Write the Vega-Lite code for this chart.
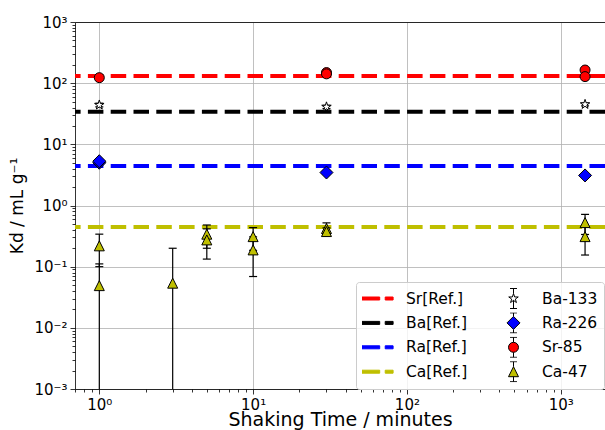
{
  "$schema": "https://vega.github.io/schema/vega-lite/v6.json",
  "width": 530,
  "height": 367,
  "autosize": {"type": "none"},
  "padding": {"left": 75, "top": 22, "right": 0, "bottom": 41},
  "background": "white",
  "config": {
    "view": {"stroke": null},
    "font": "DejaVu Sans",
    "axis": {
      "labelFont": "DejaVu Sans", "labelFontSize": 15, "labelColor": "black",
      "titleFont": "DejaVu Sans", "titleFontSize": 19, "titleFontWeight": "normal", "titleColor": "black",
      "domainColor": "black", "domainWidth": 0.8, "tickColor": "black", "tickWidth": 0.8, "tickSize": 5,
      "gridColor": "#b0b0b0", "gridWidth": 0.8, "gridOpacity": 1, "labelFlush": false, "labelOverlap": false, "labelPadding": 3
    }
  },
  "datasets": {
    "refs": [
      {"series": "Sr[Ref.]", "k": 131},
      {"series": "Ba[Ref.]", "k": 34.2},
      {"series": "Ra[Ref.]", "k": 4.44},
      {"series": "Ca[Ref.]", "k": 0.447}
    ],
    "pts": [
      {"t": 1, "series": "Ba-133", "k": 44, "lo": 41, "hi": 47},
      {"t": 30, "series": "Ba-133", "k": 41, "lo": 38.5, "hi": 43.5},
      {"t": 1440, "series": "Ba-133", "k": 45, "lo": 42.5, "hi": 47.5},
      {"t": 1, "series": "Ra-226", "k": 5.0, "lo": 4.8, "hi": 5.2},
      {"t": 1, "series": "Ra-226", "k": 5.3, "lo": 5.1, "hi": 5.5},
      {"t": 30, "series": "Ra-226", "k": 3.46, "lo": 3.3, "hi": 3.6},
      {"t": 1440, "series": "Ra-226", "k": 3.1, "lo": 2.95, "hi": 3.25},
      {"t": 1, "series": "Sr-85", "k": 123, "lo": 118, "hi": 128},
      {"t": 30, "series": "Sr-85", "k": 149, "lo": 143, "hi": 155},
      {"t": 30, "series": "Sr-85", "k": 142, "lo": 136, "hi": 148},
      {"t": 1440, "series": "Sr-85", "k": 164, "lo": 158, "hi": 170},
      {"t": 1440, "series": "Sr-85", "k": 128, "lo": 123, "hi": 133},
      {"t": 1, "series": "Ca-47", "k": 0.219, "lo": 0.1, "hi": 0.34},
      {"t": 1, "series": "Ca-47", "k": 0.049, "lo": 0.0001, "hi": 0.111},
      {"t": 3, "series": "Ca-47", "k": 0.0537, "lo": 0.0001, "hi": 0.2},
      {"t": 5, "series": "Ca-47", "k": 0.34, "lo": 0.2, "hi": 0.48},
      {"t": 5, "series": "Ca-47", "k": 0.274, "lo": 0.133, "hi": 0.415},
      {"t": 10, "series": "Ca-47", "k": 0.31, "lo": 0.185, "hi": 0.435},
      {"t": 10, "series": "Ca-47", "k": 0.188, "lo": 0.069, "hi": 0.307},
      {"t": 30, "series": "Ca-47", "k": 0.42, "lo": 0.33, "hi": 0.52},
      {"t": 30, "series": "Ca-47", "k": 0.375, "lo": 0.32, "hi": 0.43},
      {"t": 1440, "series": "Ca-47", "k": 0.526, "lo": 0.336, "hi": 0.716},
      {"t": 1440, "series": "Ca-47", "k": 0.31, "lo": 0.155, "hi": 0.465}
    ]
  },
  "layer": [
    {
      "data": {"name": "refs"},
      "mark": {"type": "rule", "strokeWidth": 4, "strokeDash": [15.5, 7.3]},
      "encoding": {
        "y": {
          "field": "k", "type": "quantitative",
          "scale": {"type": "log", "domain": [0.001, 1000], "nice": false},
          "axis": {
            "orient": "left", "values": [0.001, 0.01, 0.1, 1, 10, 100, 1000], "grid": true,
            "labelExpr": "datum.value < 0.0015 ? '10⁻³' : datum.value < 0.015 ? '10⁻²' : datum.value < 0.15 ? '10⁻¹' : datum.value < 1.5 ? '10⁰' : datum.value < 15 ? '10¹' : datum.value < 150 ? '10²' : '10³'",
            "title": "Kd / mL g⁻¹", "titlePadding": 7, "titleFontSize": 17
          }
        },
        "color": {
          "field": "series", "type": "nominal",
          "scale": {
            "domain": ["Sr[Ref.]", "Ba[Ref.]", "Ra[Ref.]", "Ca[Ref.]", "Ba-133", "Ra-226", "Sr-85", "Ca-47"],
            "range": ["#ff0000", "#000000", "#0000ff", "#bfbf00", "#000000", "#000000", "#000000", "#000000"]
          },
          "legend": {
            "title": null, "orient": "none", "legendX": 281, "legendY": 260, "direction": "vertical", "columns": 2,
            "columnPadding": 30, "rowPadding": 3.4, "padding": 6, "fillColor": "rgba(255,255,255,0.8)",
            "strokeColor": "#cccccc", "cornerRadius": 3, "symbolSize": 900, "symbolStrokeWidth": 1, "symbolOpacity": 1,
            "labelOffset": 13, "labelFont": "DejaVu Sans", "labelFontSize": 15.5, "labelColor": "black", "clipHeight": 21,
            "encoding": {
              "symbols": {
                "shape": {"value": {"expr": "datum.value == 'Ba-133' ? 'M0,-0.333L0.075,-0.103L0.317,-0.103L0.121,0.039L0.196,0.27L0,0.127L-0.196,0.27L-0.121,0.039L-0.317,-0.103L-0.075,-0.103Z M0,-0.667L0,-0.333 M0,0.127L0,0.667 M-0.233,-0.667L0.233,-0.667 M-0.233,0.667L0.233,0.667' : datum.value == 'Ra-226' ? 'M0,-0.433L0.433,0L0,0.433L-0.433,0Z M0,-0.667L0,-0.433 M0,0.433L0,0.667 M-0.233,-0.667L0.233,-0.667 M-0.233,0.667L0.233,0.667' : datum.value == 'Sr-85' ? 'M-0.333,0C-0.333,-0.184,-0.184,-0.333,0,-0.333C0.184,-0.333,0.333,-0.184,0.333,0C0.333,0.184,0.184,0.333,0,0.333C-0.184,0.333,-0.333,0.184,-0.333,0Z M0,-0.667L0,-0.333 M0,0.333L0,0.667 M-0.233,-0.667L0.233,-0.667 M-0.233,0.667L0.233,0.667' : datum.value == 'Ca-47' ? 'M0,-0.333L0.333,0.333L-0.333,0.333Z M0,-0.667L0,-0.333 M0,0.333L0,0.667 M-0.233,-0.667L0.233,-0.667 M-0.233,0.667L0.233,0.667' : 'M-1.04,-0.1L0.146,-0.1L0.146,0.1L-1.04,0.1Z M0.514,-0.1L1.04,-0.1L1.04,0.1L0.514,0.1Z'"}},
                "fill": {"value": {"expr": "datum.value == 'Ba-133' ? 'white' : datum.value == 'Ra-226' ? '#0000ff' : datum.value == 'Sr-85' ? '#ff0000' : datum.value == 'Ca-47' ? '#bfbf00' : scale('color', datum.value)"}},
                "stroke": {"value": {"expr": "scale('color', datum.value)"}},
                "opacity": {"value": 1},
                "strokeWidth": {"value": 1}
              }
            }
          }
        }
      }
    },
    {
      "data": {"name": "pts"},
      "mark": {"type": "rule", "color": "black", "strokeWidth": 1.2, "clip": true},
      "encoding": {
        "x": {
          "field": "t", "type": "quantitative",
          "scale": {"type": "log", "domain": [0.695, 1941], "nice": false},
          "axis": {
            "orient": "bottom", "values": [1, 10, 100, 1000], "grid": true,
            "labelExpr": "datum.value < 1.5 ? '10⁰' : datum.value < 15 ? '10¹' : datum.value < 150 ? '10²' : '10³'",
            "title": "Shaking Time / minutes", "titlePadding": -1.5
          }
        },
        "y": {
          "field": "lo", "type": "quantitative",
          "scale": {"type": "log", "domain": [0.001, 1000], "nice": false},
          "axis": {
            "orient": "left", "labels": false, "domain": false, "grid": false, "tickSize": 3, "title": null,
            "values": [0.002, 0.003, 0.004, 0.005, 0.006, 0.007, 0.008, 0.009, 0.02, 0.03, 0.04, 0.05, 0.06, 0.07, 0.08, 0.09, 0.2, 0.3, 0.4, 0.5, 0.6, 0.7, 0.8, 0.9, 2, 3, 4, 5, 6, 7, 8, 9, 20, 30, 40, 50, 60, 70, 80, 90, 200, 300, 400, 500, 600, 700, 800, 900]
          }
        },
        "y2": {"field": "hi"}
      }
    },
    {
      "data": {"name": "pts"},
      "mark": {"type": "tick", "orient": "horizontal", "color": "black", "size": 8, "thickness": 1.2, "opacity": 1, "clip": true},
      "encoding": {
        "x": {
          "field": "t", "type": "quantitative",
          "scale": {"type": "log", "domain": [0.695, 1941], "nice": false},
          "axis": {
            "orient": "bottom", "labels": false, "domain": false, "grid": false, "tickSize": 3, "title": null,
            "values": [0.7, 0.8, 0.9, 2, 3, 4, 5, 6, 7, 8, 9, 20, 30, 40, 50, 60, 70, 80, 90, 200, 300, 400, 500, 600, 700, 800, 900]
          }
        },
        "y": {"field": "lo", "type": "quantitative", "scale": {"type": "log", "domain": [0.001, 1000], "nice": false}, "axis": null}
      }
    },
    {
      "data": {"name": "pts"},
      "mark": {"type": "tick", "orient": "horizontal", "color": "black", "size": 8, "thickness": 1.2, "opacity": 1, "clip": true},
      "encoding": {
        "x": {
          "field": "t", "type": "quantitative",
          "scale": {"type": "log", "domain": [0.695, 1941], "nice": false},
          "axis": {"orient": "top", "labels": false, "ticks": false, "grid": false, "domain": true, "title": null}
        },
        "y": {"field": "hi", "type": "quantitative", "scale": {"type": "log", "domain": [0.001, 1000], "nice": false}, "axis": null}
      }
    },
    {
      "data": {"name": "pts"},
      "mark": {"type": "point", "opacity": 1, "stroke": "black", "strokeWidth": 1, "size": 100},
      "encoding": {
        "x": {"field": "t", "type": "quantitative", "scale": {"type": "log", "domain": [0.695, 1941], "nice": false}, "axis": null},
        "y": {"field": "k", "type": "quantitative", "scale": {"type": "log", "domain": [0.001, 1000], "nice": false}, "axis": null},
        "fill": {
          "field": "series", "type": "nominal", "legend": null,
          "scale": {"domain": ["Ba-133", "Ra-226", "Sr-85", "Ca-47"], "range": ["#ffffff", "#0000ff", "#ff0000", "#bfbf00"]}
        },
        "shape": {
          "field": "series", "type": "nominal", "legend": null,
          "scale": {
            "domain": ["Ba-133", "Ra-226", "Sr-85", "Ca-47"],
            "range": [
              "M0,-1L0.225,-0.309L0.951,-0.309L0.363,0.118L0.588,0.809L0,0.382L-0.588,0.809L-0.363,0.118L-0.951,-0.309L-0.225,-0.309Z",
              "M0,-1.3L1.3,0L0,1.3L-1.3,0Z",
              "circle",
              "M0,-1L1,1L-1,1Z"
            ]
          }
        }
      }
    }
  ],
  "resolve": {"axis": {"x": "independent", "y": "independent"}}
}
